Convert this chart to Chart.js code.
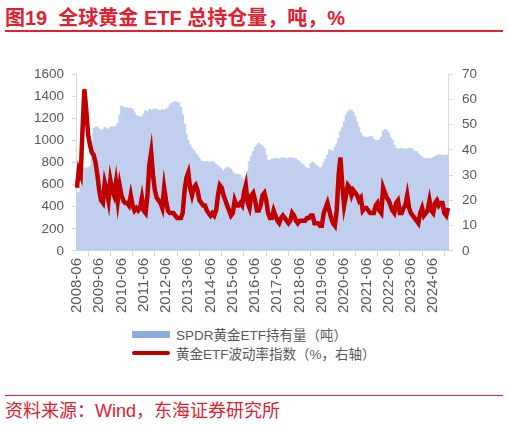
<!DOCTYPE html>
<html lang="zh">
<head>
    <meta charset="UTF-8">
    <title>图19 全球黄金 ETF 总持仓量</title>
    <script src="https://cdn.jsdelivr.net/npm/chart.js"></script>
    <style>
        body {
            margin: 0;
            width: 509px;
            height: 425px;
            position: relative;
            background: #fff;
            font-family: "Liberation Sans", Arial, "Noto Sans CJK SC", sans-serif;
            overflow: hidden;
        }
        .title {
            position: absolute; left: 5px; top: 2px;
            font-size: 20px; font-weight: bold; color: #e2202f;
            white-space: pre;
        }
        .rule { position: absolute; left: 5px; width: 498px; background: #e2202f; }
        #box { position: absolute; left: 0; top: 57px; width: 509px; height: 258px; }
        .legend {
            position: absolute; left: 132px; font-size: 13.5px; color: #595959;
            display: flex; align-items: center; white-space: pre;
        }
        .sw { width: 38px; margin-right: 6px; }
        .source {
            position: absolute; left: 5px; top: 396px;
            font-size: 18px; color: #e2202f; white-space: pre;
        }
    </style>
</head>
<body>
    <div class="title">图19  全球黄金 ETF 总持仓量，吨，%</div>
    <div class="rule" style="top:30px;height:2px"></div>
    <div id="box"><canvas id="etfChart"></canvas></div>
    <div class="legend" style="top:324px"><span class="sw" style="height:7px;background:#8faadc"></span>SPDR黄金ETF持有量（吨）</div>
    <div class="legend" style="top:343px"><span class="sw" style="height:4px;border-radius:2px;background:#c00000"></span>黄金ETF波动率指数（%，右轴）</div>
    <div class="rule" style="top:395px;height:1px"></div>
    <div class="source">资料来源：Wind，东海证券研究所</div>

    <script>
        // SPDR 黄金ETF持有量（吨），月度，2008-06 起
        const holdings = [
            520, 530, 600, 740, 750, 750, 755, 770, 1000, 1110,
            1120, 1125, 1105, 1090, 1100, 1120, 1110, 1100, 1120, 1125,
            1120, 1130, 1150, 1230, 1310, 1300, 1295, 1295, 1290, 1290,
            1280, 1250, 1225, 1220, 1210, 1220, 1240, 1270, 1260, 1285,
            1275, 1280, 1285, 1280, 1275, 1270, 1280, 1270, 1285, 1290,
            1320, 1335, 1345, 1350, 1348, 1340, 1300, 1230, 1150, 1060,
            1000, 960, 930, 910, 880, 865, 840, 815, 810, 805,
            810, 805, 805, 810, 800, 785, 770, 760, 740, 720,
            745, 760, 750, 740, 715, 700, 695, 690, 690, 660,
            645, 680, 720, 810, 860, 900, 940, 960, 975, 960,
            950, 930, 870, 820, 820, 830, 835, 840, 835, 830,
            840, 845, 840, 835, 840, 845, 840, 840, 835, 820,
            810, 790, 780, 760, 750, 745, 790, 805, 790, 775,
            765, 745, 760, 800, 830, 870, 915, 910, 900, 940,
            970, 1020, 1080, 1120, 1170, 1230, 1260, 1275, 1275, 1255,
            1215, 1170, 1120, 1070, 1040, 1030, 1025, 1030, 1040, 1035,
            1010, 1000, 1000, 1005, 1030, 1085, 1100, 1090, 1070, 1025,
            1005, 960, 930, 920, 925, 930, 925, 920, 925, 930,
            930, 920, 900, 900, 880, 865, 850, 840, 835, 835,
            835, 835, 845, 855, 865, 870, 870, 865, 865, 870, 865
        ];

        // 黄金ETF波动率指数（%，右轴）
        const volatility = [
            25, 32, 30, 48, 64, 56, 46, 42, 39, 38,
            35, 30, 24, 20, 19, 27, 24, 20, 28, 24,
            22, 27, 20, 26, 22, 20, 19, 19, 18, 22,
            18, 16, 17, 16, 17, 21, 16, 15, 22, 34,
            39, 30, 24, 21, 20, 19, 17, 25, 20, 16,
            15, 15, 15, 14, 13, 13, 13, 15, 24, 29,
            31, 25, 22, 25, 26, 24, 20, 19, 18, 18,
            16, 15, 14, 15, 14, 16, 22, 26, 25, 22,
            20, 18, 16, 14, 15, 20, 18, 18, 19, 18,
            23, 26, 19, 17, 22, 23, 20, 16, 16, 18,
            22, 23, 20, 15, 13, 13, 16, 14, 12, 11,
            13, 14, 13, 12, 11, 12, 15, 14, 12, 11,
            12, 12, 12, 12, 13, 13, 14, 14, 11, 11,
            11, 10, 10, 15, 17, 19, 16, 13, 11, 10,
            16, 30, 37, 26, 18, 22, 26, 25, 22, 24,
            23, 22, 20, 21, 16, 17, 17, 16, 15, 15,
            15, 18, 19, 16, 15, 25, 23, 21, 20, 18,
            16, 15, 19, 20, 15, 15, 17, 18, 22, 17,
            15, 14, 13, 12, 11, 15, 17, 14, 15, 16,
            20, 16, 15, 19, 20, 18, 19, 19, 15, 14, 17
        ];

        const yearTicks = [
            '2008-06', '2009-06', '2010-06', '2011-06', '2012-06', '2013-06',
            '2014-06', '2015-06', '2016-06', '2017-06', '2018-06', '2019-06',
            '2020-06', '2021-06', '2022-06', '2023-06', '2024-06'
        ];

        // 月份标签
        const months = [];
        for (let i = 0; i < holdings.length; i++) {
            const m = 5 + i; // 2008-06 = month index 5
            const y = 2008 + Math.floor(m / 12);
            const mm = (m % 12) + 1;
            months.push(y + '-' + String(mm).padStart(2, '0'));
        }

        const axisGray = '#d9d9d9';
        const textGray = '#595959';
        const fontFamily = '"Liberation Sans", Arial, "Noto Sans CJK SC", sans-serif';

        const ctx = document.getElementById('etfChart').getContext('2d');
        new Chart(ctx, {
            data: {
                labels: months,
                datasets: [
                    {
                        type: 'line',
                        label: '黄金ETF波动率指数（%，右轴）',
                        data: volatility,
                        yAxisID: 'y1',
                        borderColor: '#c00000',
                        borderWidth: 4.5,
                        pointRadius: 0,
                        tension: 0,
                        order: 0
                    },
                    {
                        type: 'bar',
                        label: 'SPDR黄金ETF持有量（吨）',
                        data: holdings,
                        yAxisID: 'y',
                        backgroundColor: '#c0cfee',
                        barPercentage: 1,
                        categoryPercentage: 1,
                        order: 1
                    }
                ]
            },
            options: {
                responsive: true,
                maintainAspectRatio: false,
                animation: false,
                layout: { padding: { top: 7, left: 26, right: 23, bottom: 0 } },
                plugins: {
                    legend: { display: false },
                    tooltip: { enabled: false }
                },
                scales: {
                    x: {
                        offset: true,
                        grid: { drawOnChartArea: false, color: axisGray, tickLength: 5 },
                        border: { color: axisGray },
                        afterBuildTicks: axis => {
                            axis.ticks = axis.ticks.filter(t => yearTicks.includes(months[t.value]));
                        },
                        ticks: {
                            autoSkip: false,
                            minRotation: 90,
                            maxRotation: 90,
                            padding: 2,
                            color: textGray,
                            font: { family: fontFamily, size: 15 }
                        }
                    },
                    y: {
                        position: 'left',
                        min: 0,
                        max: 1600,
                        grid: { drawOnChartArea: false, color: axisGray, tickLength: 4 },
                        border: { color: axisGray },
                        ticks: {
                            stepSize: 200,
                            padding: 8,
                            color: textGray,
                            font: { family: fontFamily, size: 13.5 },
                            callback: v => String(v)
                        }
                    },
                    y1: {
                        position: 'right',
                        min: 0,
                        max: 70,
                        grid: { drawOnChartArea: false, color: axisGray, tickLength: 4 },
                        border: { color: axisGray },
                        ticks: {
                            stepSize: 10,
                            padding: 9,
                            color: textGray,
                            font: { family: fontFamily, size: 13.5 },
                            callback: v => String(v)
                        }
                    }
                }
            }
        });
    </script>
</body>
</html>
